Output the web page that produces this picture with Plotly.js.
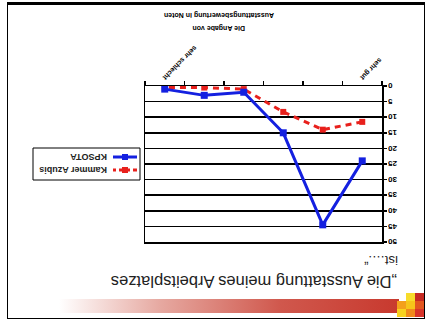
<!DOCTYPE html>
<html><head><meta charset="utf-8">
<script src="https://cdn.plot.ly/plotly-3.0.1.min.js"></script>
<style>
html,body{margin:0;padding:0;background:#fff;}
#wrap{position:relative;width:427px;height:321px;transform:rotate(180deg);transform-origin:50% 50%;overflow:hidden;background:#fff;}
#frame{position:absolute;left:2px;top:2px;width:416px;height:313px;border:1.5px solid #000;border-bottom:3px solid #000;}
#bar{position:absolute;left:28px;top:8px;width:340px;height:14px;background:linear-gradient(to right,#c8392e 0%,#d0584d 35%,#e6a8a0 70%,#ffffff 100%);}
.sq{position:absolute;width:9px;height:8px;}
#chart{position:absolute;left:0;top:0;width:427px;height:321px;}
</style></head>
<body>
<div id="wrap">
  <div id="frame"></div>
  <div id="bar"></div>
  <div class="sq" style="left:3px;top:4px;background:#d8342a"></div>
  <div class="sq" style="left:12px;top:4px;background:#f08a1c"></div>
  <div class="sq" style="left:21px;top:4px;background:#f7d21e"></div>
  <div class="sq" style="left:3px;top:12px;background:#e2561f"></div>
  <div class="sq" style="left:12px;top:12px;background:#f6c51a"></div>
  <div class="sq" style="left:21px;top:12px;background:#f3a01c"></div>
  <div class="sq" style="left:3px;top:20px;background:#c62a22"></div>
  <div class="sq" style="left:12px;top:20px;background:#f7dc2a"></div>
  <div id="chart"></div>
</div>
<script>
const categories = ["1", "2", "3", "4", "5", "6"];
const tickLabels = ["sehr gut", "", "", "", "", "sehr schlecht"];
const kammerAzubis = [11.5, 14, 8.3, 1, 0.5, 0.5];
const kpsota = [24, 44.5, 15, 2, 3, 1];
const seriesNames = ["Kammer Azubis", "KPSOTA"];
const seriesColors = ["#e8201c", "#1420e0"];
const seriesDash = ["6px,5px", "solid"];
const titleLine1 = "„Die Ausstattung meines Arbeitsplatzes";
const titleLine2 = "ist….“";
const axisTitle1 = "Die Angabe von";
const axisTitle2 = "Ausstattungsbewertung in Noten";

const L = 45, R = 145, T = 79, B = 86, W = 427, H = 321;
const pw = W - L - R, ph = H - T - B;
const px = v => (v - L) / pw;
const py = v => (H - B - v) / ph;
const fam = "Liberation Sans, Arial, sans-serif";

const seriesData = [kammerAzubis, kpsota];
const traces = seriesData.map((vals, i) => ({
  x: categories, y: vals, name: seriesNames[i], type: "scatter", mode: "lines+markers",
  line: {color: seriesColors[i], width: 3, dash: seriesDash[i]},
  marker: {symbol: "square", size: i === 0 ? 6 : 7, color: seriesColors[i]}
}));

// manual legend (compact, as in the reference)
const shapes = [
  {type: "rect", xref: "paper", yref: "paper", x0: px(287), x1: px(394), y0: py(141), y1: py(173),
   line: {color: "#000", width: 1}, fillcolor: "#fff"}
];
const annotations = [];
seriesNames.forEach((name, i) => {
  const yy = 151 + 13 * i;
  shapes.push({type: "line", xref: "paper", yref: "paper", x0: px(290), x1: px(314), y0: py(yy), y1: py(yy),
    line: {color: seriesColors[i], width: 3, dash: seriesDash[i] === "solid" ? "solid" : "4px,3px"}});
  shapes.push({type: "rect", xref: "paper", yref: "paper", x0: px(299), x1: px(305), y0: py(yy - 3), y1: py(yy + 3),
    line: {width: 0}, fillcolor: seriesColors[i]});
  annotations.push({xref: "paper", yref: "paper", x: px(318), y: py(yy), xanchor: "left", yanchor: "middle",
    text: name, showarrow: false, font: {size: 9, weight: "bold", color: "#222", family: fam}});
});

annotations.push(
  {xref: "paper", yref: "paper", x: px(28), y: py(39), xanchor: "left", yanchor: "middle",
   text: titleLine1, showarrow: false, font: {size: 16.5, color: "#222", family: fam}},
  {xref: "paper", yref: "paper", x: px(27), y: py(61), xanchor: "left", yanchor: "middle",
   text: titleLine2, showarrow: false, font: {size: 13, color: "#222", family: fam}},
  {xref: "paper", yref: "paper", x: px(208), y: py(293), xanchor: "center", yanchor: "middle",
   text: axisTitle1, showarrow: false, font: {size: 7, weight: "bold", color: "#000", family: fam}},
  {xref: "paper", yref: "paper", x: px(208), y: py(306), xanchor: "center", yanchor: "middle",
   text: axisTitle2, showarrow: false, font: {size: 7, weight: "bold", color: "#000", family: fam}}
);

const layout = {
  width: W, height: H,
  margin: {l: L, r: R, t: T, b: B, pad: 0},
  paper_bgcolor: "rgba(0,0,0,0)", plot_bgcolor: "#fff",
  showlegend: false,
  font: {family: fam, color: "#000"},
  xaxis: {type: "category", tickmode: "array", tickvals: categories, ticktext: tickLabels,
    tickson: "boundaries", ticks: "outside", ticklen: 4, tickwidth: 1.5, tickcolor: "#000",
    showline: true, linecolor: "#000", linewidth: 1.5, mirror: true, showgrid: false,
    tickangle: -45, tickfont: {size: 7, weight: "bold", family: fam}, automargin: false,
    range: [-0.5, 5.5]},
  yaxis: {range: [0, 50], dtick: 5, showgrid: true, gridcolor: "#000", gridwidth: 1.5,
    showline: true, linecolor: "#000", linewidth: 1.5, mirror: true, zeroline: false,
    ticks: "outside", ticklen: 3, tickwidth: 1.5, tickcolor: "#000",
    tickfont: {size: 8, weight: "bold", family: fam}, automargin: false},
  shapes: shapes,
  annotations: annotations
};
Plotly.newPlot("chart", traces, layout, {staticPlot: true, displayModeBar: false});
</script>
</body></html>
